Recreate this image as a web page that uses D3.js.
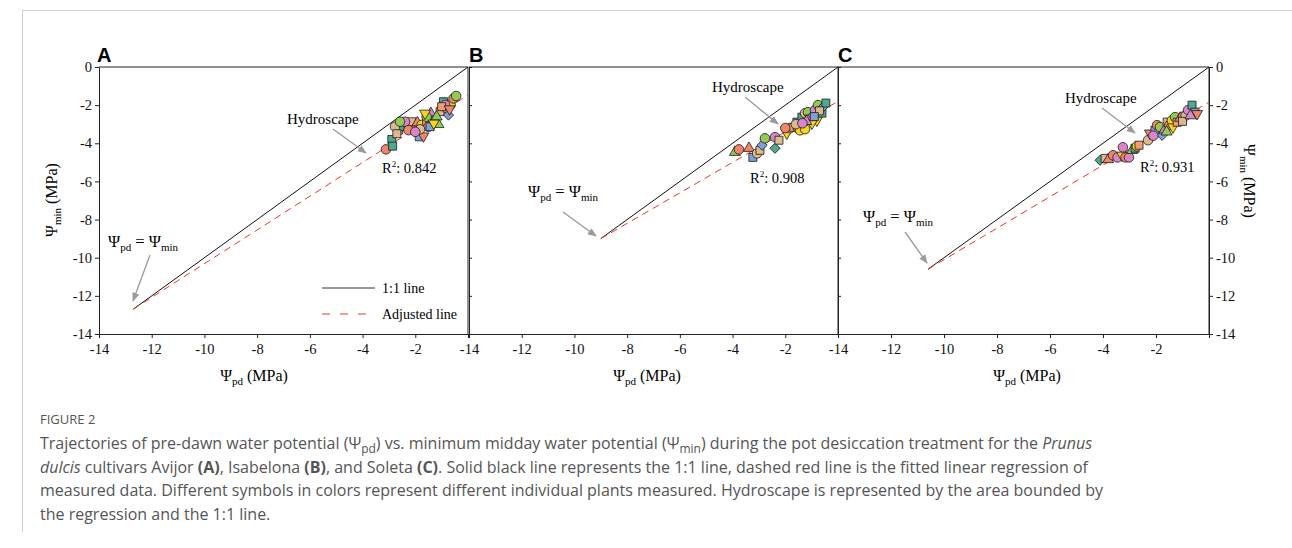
<!DOCTYPE html>
<html><head><meta charset="utf-8">
<script src="https://cdn.jsdelivr.net/npm/d3@7"></script>
<style>
body{margin:0;background:#fff;}
svg{display:block;}
</style></head>
<body>
<svg id="chart" width="1292" height="548"></svg>
<script>
// ---- data ----
const xTicks = [-14,-12,-10,-8,-6,-4,-2];
const yTicks = [0,-2,-4,-6,-8,-10,-12,-14];
const panelLetters = ["A","B","C"];
const r2Values = ["0.842","0.908","0.931"];
// 1:1 line lower end (MPa) and regression intercept at 0 (MPa)
const oneToOneEnd = [-12.7, -9.0, -10.6];
const regIntercept = [-1.47, -1.8, -1.84];

// plant symbol/color combinations
const plantShapes = ["circle","square","triangle","triangleDown","circle","square","diamond","circle","triangle","circle","square","triangleDown","circle","diamond","triangle","square"];
const plantColors = ["#f0856a","#4fa88f","#95c955","#f6d31c","#dcba8e","#dcba8e","#7e9fd8","#d986c9","#f0856a","#95c955","#7e9fd8","#f0856a","#f6d31c","#4fa88f","#d986c9","#f0a070"];

// Panel A (Avijor)
const pdA  = [-3.11,-2.89,-2.86,-2.64,-2.43,-2.33,-2.58,-2.10,-2.14,-1.92,-2.39,-1.85,-1.69,-1.76,-1.57,-1.41,-1.31,-1.12,-1.50,-1.06,-0.93,-0.81,-0.74,-0.66,-0.55,-0.45,-0.87,-1.19,-2.77,-2.58,-2.26,-1.82,-1.57,-1.44,-1.63,-1.30,-1.00,-0.70,-2.00,-2.70];
const minA = [-4.32,-3.80,-4.15,-3.31,-3.08,-3.13,-3.13,-3.13,-2.87,-2.92,-2.87,-3.66,-3.62,-3.04,-2.87,-2.43,-2.78,-3.01,-3.13,-2.34,-1.82,-2.17,-2.52,-1.99,-1.65,-1.52,-1.99,-2.61,-3.13,-2.87,-3.31,-3.27,-2.61,-3.13,-2.43,-2.95,-2.08,-2.20,-3.40,-3.50];
const plA  = [0,1,1,5,9,4,1,0,5,8,7,10,11,12,15,14,13,2,0,5,1,0,6,12,0,9,7,2,4,9,0,4,9,10,3,3,15,11,7,5];

// Panel B (Isabelona)
const pdB  = [-3.91,-3.76,-3.38,-3.23,-3.07,-2.96,-2.88,-2.77,-2.39,-2.39,-2.24,-1.94,-1.82,-1.71,-1.52,-1.44,-1.25,-1.56,-1.37,-1.25,-1.14,-1.06,-0.95,-0.87,-0.80,-0.76,-0.61,-0.57,-0.46,-0.99,-1.60,-1.20,-0.70,-2.00,-1.35,-0.90];
const minB = [-4.47,-4.32,-4.26,-4.74,-4.53,-4.37,-4.10,-3.74,-4.26,-3.68,-3.84,-3.47,-3.21,-3.16,-3.21,-3.32,-3.26,-2.89,-2.63,-2.42,-2.37,-2.68,-2.53,-2.26,-2.79,-2.00,-2.42,-2.10,-1.89,-2.95,-3.00,-2.85,-2.30,-3.20,-2.95,-2.60];
const plB  = [2,0,8,10,4,5,6,9,13,7,5,3,12,15,0,12,12,10,1,4,9,11,6,7,3,9,1,6,1,3,4,14,5,0,7,10];

// Panel C (Soleta)
const pdC  = [-4.11,-3.92,-3.80,-3.62,-3.45,-3.28,-3.25,-3.15,-3.02,-2.90,-2.79,-2.72,-2.64,-2.30,-2.23,-2.04,-1.96,-1.85,-1.77,-1.68,-1.58,-1.50,-1.40,-1.36,-1.28,-1.20,-1.09,-0.98,-0.88,-0.79,-0.64,-0.53,-0.45,-2.10,-1.60,-1.00,-0.70];
const minC = [-4.89,-4.79,-4.85,-4.63,-4.74,-4.63,-4.21,-4.74,-4.74,-4.37,-4.26,-4.16,-4.10,-3.84,-3.47,-3.32,-3.05,-3.15,-3.58,-3.30,-2.89,-3.05,-2.80,-3.15,-2.63,-2.90,-2.68,-2.60,-2.55,-2.26,-2.00,-2.37,-2.45,-3.60,-3.40,-2.85,-2.55];
const plC  = [13,5,8,0,7,3,7,0,7,2,1,12,15,4,11,10,0,9,6,14,5,0,12,3,9,15,8,0,4,7,1,10,11,7,2,5,14];

const pdAll = [pdA, pdB, pdC];
const minAll = [minA, minB, minC];
const plAll = [plA, plB, plC];

// ---- layout ----
const svg = d3.select("#chart");
const serif = "'Liberation Serif','Times New Roman',serif";
const sans = "'Open Sans','Noto Sans',sans-serif";
const tickFs = 14.5;

function styleTicks(sel){
  sel.attr("font-size",null).attr("font-family",null);
  sel.selectAll("text")
    .style("font-family",serif).style("font-size",tickFs+"px").style("fill","#111")
    .attr("font-family",serif).attr("font-size",tickFs).attr("fill","#111");
  sel.selectAll("line,path").attr("stroke","#222");
}

// outer frame
svg.append("line").attr("x1",22).attr("x2",1292).attr("y1",10.5).attr("y2",10.5).attr("stroke","#cfcfcf");
svg.append("line").attr("x1",22.5).attr("x2",22.5).attr("y1",10).attr("y2",532).attr("stroke","#cfcfcf");

const xRanges = [[99,468],[469,838],[838,1209]];
const y = d3.scaleLinear().domain([-14,0]).range([334,67]);

const defs = svg.append("defs");
defs.append("marker").attr("id","arr").attr("viewBox","0 0 10 10").attr("refX",9).attr("refY",5)
  .attr("markerWidth",7).attr("markerHeight",7).attr("orient","auto-start-reverse")
  .append("path").attr("d","M0,1 L10,5 L0,9 z").attr("fill","#9a9a9a");

function shapePath(s){
  if(s==="circle") return d3.symbol(d3.symbolCircle, 72)();
  if(s==="square") return d3.symbol(d3.symbolSquare, 64)();
  if(s==="triangle") return d3.symbol(d3.symbolTriangle, 52)();
  if(s==="triangleDown") return d3.symbol(d3.symbolTriangle, 52)();
  if(s==="diamond") return d3.symbol(d3.symbolSquare, 52)();
  return d3.symbol(d3.symbolCircle, 72)();
}
function shapeRot(s){ return s==="triangleDown"?180:(s==="diamond"?45:0); }

const annot = [
  {hx:287, hy:124, ax1:333, ay1:129, ax2:366, ay2:153, rx:382, ry:173, ex:108, ey:247, ex1:150, ey1:255, ex2:133, ey2:301},
  {hx:712, hy:92,  ax1:745, ay1:97,  ax2:778, ay2:124, rx:750, ry:183, ex:528, ey:197, ex1:563, ey1:212, ex2:596, ey2:236},
  {hx:1065,hy:103, ax1:1102,ay1:108, ax2:1135,ay2:133, rx:1140,ry:172, ex:863, ey:222, ex1:905, ey1:232, ex2:927, ey2:263}
];

for(let p=0;p<3;p++){
  const x = d3.scaleLinear().domain([-14,0]).range(xRanges[p]);
  const g = svg.append("g");
  // frame: top & right
  g.append("line").attr("x1",x(-14)).attr("x2",x(0)).attr("y1",y(0)).attr("y2",y(0)).attr("stroke","#222").attr("stroke-width",1);
  g.append("line").attr("x1",x(0)).attr("x2",x(0)).attr("y1",y(0)).attr("y2",y(-14)).attr("stroke","#222").attr("stroke-width",1);
  // x axis
  const xa = g.append("g").attr("transform",`translate(0,${y(-14)})`)
    .call(d3.axisBottom(x).tickValues(xTicks.concat([0])).tickSize(4).tickSizeOuter(0).tickFormat(d=> d===0?"":String(d)));
  styleTicks(xa);
  xa.selectAll("text").attr("dy","0.9em");
  // y axis
  if(p===0){
    const ya = g.append("g").attr("transform",`translate(${x(-14)},0)`)
      .call(d3.axisLeft(y).tickValues(yTicks).tickSize(4).tickSizeOuter(0).tickFormat(d=>String(d)));
    styleTicks(ya);
  } else {
    const ya = g.append("g").attr("transform",`translate(${x(-14)},0)`)
      .call(d3.axisRight(y).tickValues(yTicks).tickSize(3).tickSizeOuter(0).tickFormat(""));
    styleTicks(ya);
  }
  if(p===2){
    const ya = g.append("g").attr("transform",`translate(${x(0)},0)`)
      .call(d3.axisRight(y).tickValues(yTicks).tickSize(4).tickSizeOuter(0).tickFormat(d=>String(d)));
    styleTicks(ya);
  }
  // 1:1 line
  const e = oneToOneEnd[p];
  g.append("line").attr("x1",x(e)).attr("y1",y(e)).attr("x2",x(0)).attr("y2",y(0)).attr("stroke","#111").attr("stroke-width",1);
  // regression
  g.append("line").attr("x1",x(e)).attr("y1",y(e)).attr("x2",x(0)).attr("y2",y(regIntercept[p]))
    .attr("stroke","#e8382c").attr("stroke-width",1).attr("stroke-dasharray","7,5");
  // points
  const pts = pdAll[p].map((v,i)=>({x:v,y:minAll[p][i],pl:plAll[p][i]}));
  g.selectAll("path.pt").data(pts).join("path").attr("class","pt")
    .attr("d",d=>shapePath(plantShapes[d.pl]))
    .attr("transform",d=>`translate(${x(d.x)},${y(d.y)}) rotate(${shapeRot(plantShapes[d.pl])})`)
    .attr("fill",d=>plantColors[d.pl]).attr("stroke","#1a1a1a").attr("stroke-width",0.8);
  // panel letter
  g.append("text").attr("x",x(-14)-2+(p===0?0:2)).attr("y",62).attr("font-family","'Liberation Sans',Arial,sans-serif")
    .attr("font-weight","bold").attr("font-size",20).text(panelLetters[p]);
  // annotations
  const a = annot[p];
  g.append("text").attr("x",a.hx).attr("y",a.hy).attr("font-family",serif).attr("font-size",15).text("Hydroscape");
  g.append("line").attr("x1",a.ax1).attr("y1",a.ay1).attr("x2",a.ax2).attr("y2",a.ay2).attr("stroke","#9a9a9a").attr("stroke-width",1.3).attr("marker-end","url(#arr)");
  const rt = g.append("text").attr("x",a.rx).attr("y",a.ry).attr("font-family",serif).attr("font-size",14.5);
  rt.append("tspan").text("R");
  rt.append("tspan").attr("font-size",9).attr("dy",-6).text("2");
  rt.append("tspan").attr("dy",6).text(": " + r2Values[p]);
  const et = g.append("text").attr("x",a.ex).attr("y",a.ey).attr("font-family",serif).attr("font-size",16.5);
  et.append("tspan").text("\u03A8");
  et.append("tspan").attr("font-size",11).attr("dy",4).text("pd");
  et.append("tspan").attr("dy",-4).text(" = \u03A8");
  et.append("tspan").attr("font-size",11).attr("dy",4).text("min");
  g.append("line").attr("x1",a.ex1).attr("y1",a.ey1).attr("x2",a.ex2).attr("y2",a.ey2).attr("stroke","#9a9a9a").attr("stroke-width",1.3).attr("marker-end","url(#arr)");
}

// x axis titles
const xTitleX = [254, 647, 1027];
xTitleX.forEach(cx=>{
  const t = svg.append("text").attr("x",cx).attr("y",381).attr("text-anchor","middle").attr("font-family",serif).attr("font-size",16);
  t.append("tspan").text("\u03A8");
  t.append("tspan").attr("font-size",11).attr("dy",4).text("pd");
  t.append("tspan").attr("dy",-4).text(" (MPa)");
});
// y axis titles
{
  const t = svg.append("text").attr("transform","translate(57,200) rotate(-90)").attr("text-anchor","middle").attr("font-family",serif).attr("font-size",16);
  t.append("tspan").text("\u03A8");
  t.append("tspan").attr("font-size",11).attr("dy",4).text("min");
  t.append("tspan").attr("dy",-4).text(" (MPa)");
  const t2 = svg.append("text").attr("transform","translate(1244,181) rotate(90)").attr("text-anchor","middle").attr("font-family",serif).attr("font-size",16);
  t2.append("tspan").text("\u03A8");
  t2.append("tspan").attr("font-size",11).attr("dy",4).text("min");
  t2.append("tspan").attr("dy",-4).text(" (MPa)");
}
// legend in A
{
  svg.append("line").attr("x1",322).attr("x2",375).attr("y1",288).attr("y2",288).attr("stroke","#333");
  svg.append("text").attr("x",382).attr("y",293).attr("font-family",serif).attr("font-size",14).text("1:1 line");
  svg.append("line").attr("x1",322).attr("x2",375).attr("y1",314).attr("y2",314).attr("stroke","#e8382c").attr("stroke-dasharray","8,10");
  svg.append("text").attr("x",382).attr("y",319).attr("font-family",serif).attr("font-size",14).text("Adjusted line");
}
// caption
svg.append("text").attr("x",40).attr("y",424).attr("font-family",sans).attr("font-size",13).attr("fill","#555").attr("font-weight",500).text("FIGURE 2");
const capFs = 16;
const capColor = "#555";
const capY = [449, 473, 496, 520];
function cap(i){ return svg.append("text").attr("x",40).attr("y",capY[i]).attr("font-family",sans).attr("font-size",capFs).attr("fill",capColor); }
{
  const t = cap(0);
  t.append("tspan").text("Trajectories of pre-dawn water potential (\u03A8");
  t.append("tspan").attr("font-size",capFs*0.75).attr("dy",4).text("pd");
  t.append("tspan").attr("dy",-4).text(") vs. minimum midday water potential (\u03A8");
  t.append("tspan").attr("font-size",capFs*0.75).attr("dy",4).text("min");
  t.append("tspan").attr("dy",-4).text(") during the pot desiccation treatment for the ");
  t.append("tspan").attr("font-style","italic").text("Prunus");
  const t2 = cap(1);
  t2.append("tspan").attr("font-style","italic").text("dulcis");
  t2.append("tspan").text(" cultivars Avijor ");
  t2.append("tspan").attr("font-weight","bold").text("(A)");
  t2.append("tspan").text(", Isabelona ");
  t2.append("tspan").attr("font-weight","bold").text("(B)");
  t2.append("tspan").text(", and Soleta ");
  t2.append("tspan").attr("font-weight","bold").text("(C)");
  t2.append("tspan").text(". Solid black line represents the 1:1 line, dashed red line is the fitted linear regression of");
  cap(2).text("measured data. Different symbols in colors represent different individual plants measured. Hydroscape is represented by the area bounded by");
  cap(3).text("the regression and the 1:1 line.");
}
</script>
</body></html>
